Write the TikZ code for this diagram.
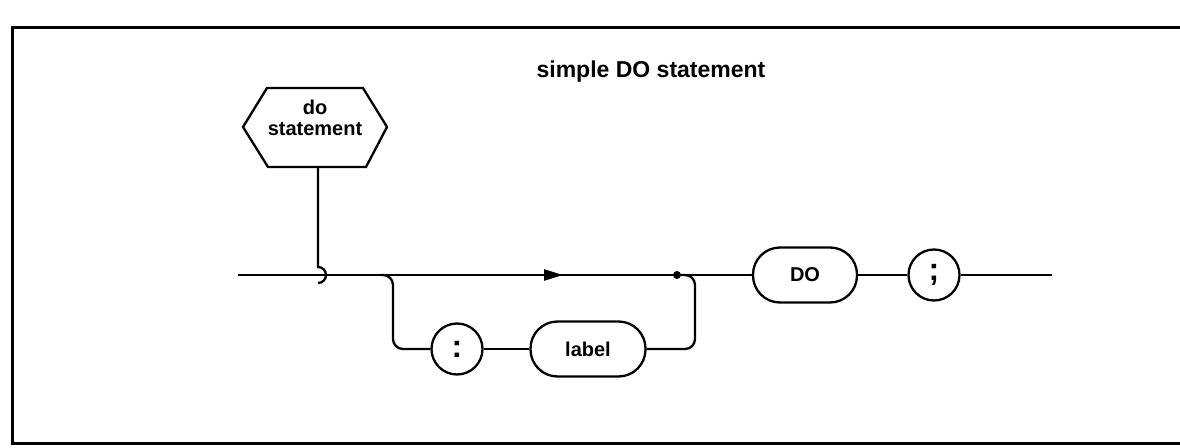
\documentclass[tikz,border=0pt]{standalone}
\usepackage{fontspec}
\setmainfont{Liberation Sans}
\usetikzlibrary{arrows.meta}
\tikzset{
  term/.style={draw, rectangle, rounded corners=27pt, minimum width=#1, minimum height=55pt, inner sep=0pt},
  sym/.style={draw, circle, minimum size=51pt, inner sep=0pt, font=\bfseries\fontsize{32}{34}\selectfont},
}
\begin{document}
\begin{tikzpicture}[x=1pt, y=1pt, line width=2.3pt, font=\bfseries\fontsize{20}{21}\selectfont]
    \useasboundingbox (0,0) rectangle (1180,447);
    \draw[line width=3pt] (1180,419) -- (12,419) -- (12,4) -- (1180,4);
    \node (title) at (651,375) {\fontsize{23}{25}\selectfont simple DO statement};
    \node[align=center] (dostmt) at (315,329) {do\\statement};
    \draw (243,320) -- (267,359) -- (363,359) -- (387,320) -- (366,280) -- (268,280) -- cycle;
    \coordinate (hexbot) at (318,280);
    \coordinate (start) at (238,172);
    \coordinate (junc) at (677,172);
    \coordinate (finish) at (1052,172);
    \node[term=104pt] (do) at (805,172) {DO};
    \node[sym] (semi) at (934,172) {;};
    \node[sym] (colon) at (457,98) {:};
    \node[term=115pt] (lbl) at (588,98) {label};
    \draw (hexbot) -- (318,180) arc[start angle=90, end angle=-90, radius=8pt];
    \draw[-{Triangle[length=19pt, width=11pt]}] (start) -- (563,172);
    \draw (560,172) -- (do);
    \draw (do) -- (semi);
    \draw (semi) -- (finish);
    \fill (junc) circle (4pt);
    \draw[rounded corners=10pt] (381,172) -- (393,172) -- (393,98) -- (colon);
    \draw (colon) -- (lbl);
    \draw[rounded corners=10pt] (lbl) -- (695,98) -- (695,172) -- (junc);
\end{tikzpicture}
\end{document}
